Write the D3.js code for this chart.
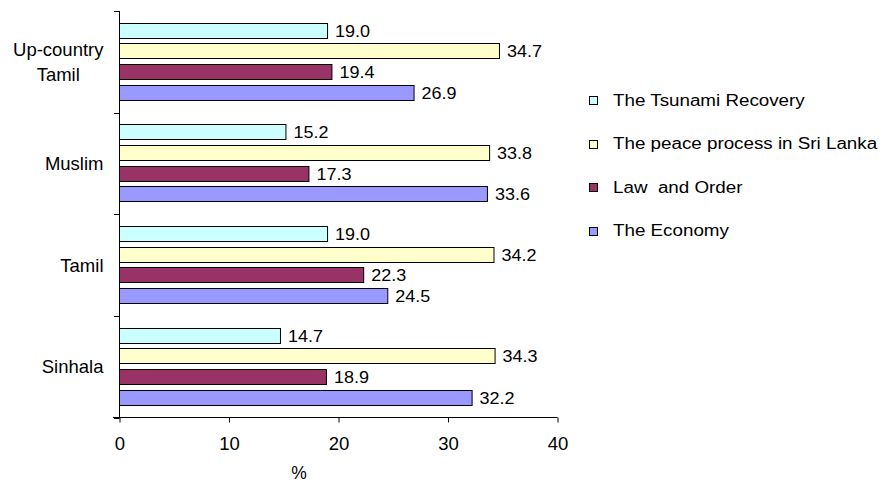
<!DOCTYPE html>
<html><head><meta charset="utf-8">
<script src="https://cdn.jsdelivr.net/npm/d3@7"></script>
<style>body{margin:0;background:#fff}svg{display:block}text{font-family:"Liberation Sans",Arial,sans-serif;fill:#000;white-space:pre}</style>
</head><body><svg id="c" width="882" height="483"></svg>
<script>
const categories = ["Up-country Tamil", "Muslim", "Tamil", "Sinhala"];
const categoryLines = [["Up-country", "Tamil"], ["Muslim"], ["Tamil"], ["Sinhala"]];
const seriesNames = ["The Tsunami Recovery", "The peace process in Sri Lanka", "Law  and Order", "The Economy"];
const seriesColors = ["#CCFFFF", "#FFFFCC", "#993366", "#9999FF"];
const tsunami = [19.0, 15.2, 19.0, 14.7];
const peace = [34.7, 33.8, 34.2, 34.3];
const lawOrder = [19.4, 17.3, 22.3, 18.9];
const economy = [26.9, 33.6, 24.5, 32.2];
const xTicks = [0, 10, 20, 30, 40];
const xTitle = "%";

const seriesValues = [tsunami, peace, lawOrder, economy];
const svg = d3.select("#c");

function stretchedText(parent, px, py, str, size, sx) {
  return parent.append("text")
    .attr("transform", `translate(${px},${py}) scale(${sx},1)`)
    .attr("dy", "0.36em").attr("font-size", size).text(str);
}

const x = d3.scaleLinear().domain([0, 40]).range([119.5, 557.5]);
const y = d3.scaleBand().domain(categories).range([11, 417.5]).padding(0);
const yi = d3.scaleBand().domain(seriesNames).range([0, y.bandwidth()]).paddingInner(0.223).paddingOuter(0.575);

// bars
categories.forEach((c, ci) => {
  seriesNames.forEach((s, si) => {
    const v = seriesValues[si][ci];
    const y0 = Math.round(y(c) + yi(s)) + 0.5;
    const h = Math.round(yi.bandwidth()) - 1;
    svg.append("rect")
      .attr("x", x(0)).attr("y", y0)
      .attr("width", x(v) - x(0)).attr("height", h)
      .attr("fill", seriesColors[si]).attr("stroke", "#000").attr("stroke-width", 1);
    stretchedText(svg, x(v) + 7.5, y0 + h / 2, v.toFixed(1), 16, 1.125);
  });
});

// x axis
const xAxis = d3.axisBottom(x).tickValues(xTicks).tickSize(5).tickPadding(0).tickFormat(d3.format("d"));
const gx = svg.append("g").attr("transform", "translate(0,417.5)").call(xAxis);
gx.select(".domain").remove();
gx.selectAll(".tick line").attr("stroke", "#000");
gx.selectAll(".tick text").attr("font-size", 18.5).attr("y", 0).attr("dy", "1.73em").attr("fill", "#000").style("font-family", '"Liberation Sans",Arial,sans-serif');
svg.append("line").attr("x1", 113).attr("x2", x(40)).attr("y1", 417.5).attr("y2", 417.5).attr("stroke", "#000");

// y axis
svg.append("line").attr("x1", x(0)).attr("x2", x(0)).attr("y1", 11).attr("y2", 417.5).attr("stroke", "#000");
const bounds = categories.map(c => y(c)).concat([y.range()[1]]);
svg.selectAll(".ytick").data(bounds).enter().append("line")
  .attr("x1", 114).attr("x2", x(0)).attr("y1", d => Math.round(d) + 0.5).attr("y2", d => Math.round(d) + 0.5).attr("stroke", "#000");

// category labels
categories.forEach((c, ci) => {
  const lines = categoryLines[ci];
  const cy = y(c) + y.bandwidth() / 2;
  const g = svg.append("g");
  const texts = lines.map((t, li) => g.append("text")
    .attr("font-size", 18.5).attr("dy", "0.36em")
    .attr("y", cy + (li - (lines.length - 1) / 2) * 25).text(t));
  const widths = texts.map(t => t.node().getComputedTextLength());
  const maxW = Math.max(...widths);
  texts.forEach(t => t.attr("text-anchor", "middle").attr("x", 103.5 - maxW / 2));
});

// x title
svg.append("text").attr("x", 299).attr("y", 479)
  .attr("text-anchor", "middle").attr("font-size", 17.5).text(xTitle);

// legend
const lg = svg.append("g");
seriesNames.forEach((s, si) => {
  const cy = 100 + si * 43.5;
  lg.append("rect").attr("x", 589.5).attr("y", Math.round(cy - 4) + 0.5).attr("width", 8).attr("height", 8)
    .attr("fill", seriesColors[si]).attr("stroke", "#000");
  stretchedText(lg, 613, cy, s, 16, 1.175);
});
</script></body></html>
